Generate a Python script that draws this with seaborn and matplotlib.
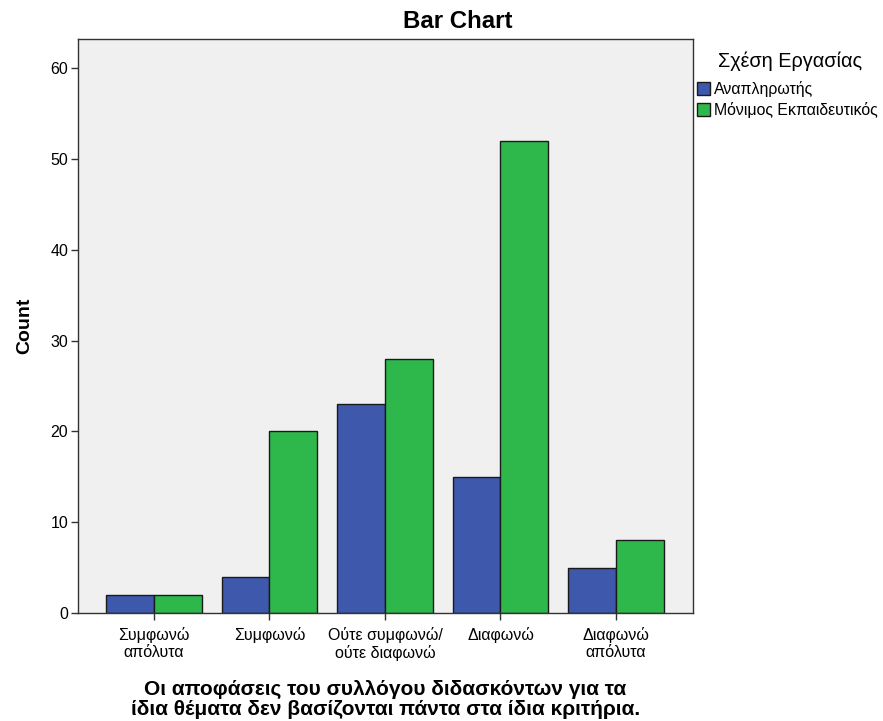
import pandas as pd
import matplotlib
matplotlib.use("Agg")
import matplotlib.pyplot as plt
import seaborn as sns

# Δεδομένα
categories = ["Συμφωνώ\nαπόλυτα", "Συμφωνώ", "Ούτε συμφωνώ/\nούτε διαφωνώ",
              "Διαφωνώ", "Διαφωνώ\nαπόλυτα"]
groups = ["Αναπληρωτής", "Μόνιμος Εκπαιδευτικός"]
counts_anapl = [2, 4, 23, 15, 5]
counts_monimos = [2, 20, 28, 52, 8]
colors = ["#3E58AC", "#2EB84B"]

df = pd.DataFrame({
    "cat": categories * 2,
    "group": [groups[0]] * 5 + [groups[1]] * 5,
    "count": counts_anapl + counts_monimos,
})

sns.set_style("white")
plt.rcParams["font.family"] = ["Liberation Sans", "DejaVu Sans"]
plt.rcParams["text.color"] = "black"
plt.rcParams["axes.labelcolor"] = "black"
plt.rcParams["xtick.color"] = "black"
plt.rcParams["ytick.color"] = "black"

W, H = 883, 721
fig = plt.figure(figsize=(W / 100, H / 100), dpi=100)
ax = fig.add_axes([78 / W, 1 - 613 / H, 615 / W, 574 / H])
ax.set_facecolor("#F0F0F0")

sns.barplot(data=df, x="cat", y="count", hue="group", order=categories,
            hue_order=groups, palette=colors, width=0.83, edgecolor="#1a1a1a",
            linewidth=1.0, saturation=1, ax=ax)

ax.set_xlim(-0.658, 4.667)
ax.set_ylim(0, 63.2)
ax.set_yticks(range(0, 61, 10))
ax.tick_params(axis="both", direction="out", length=5, width=1, color="#333333",
               labelsize=11.5, bottom=True, left=True, pad=2)
ax.tick_params(axis="x", pad=5)
for s in ax.spines.values():
    s.set_color("#333333")
    s.set_linewidth(1)

ax.set_title("Bar Chart", fontsize=17.3, fontweight="bold", pad=8, x=(458 - 78) / 615)
ax.set_ylabel("Count", fontsize=14, fontweight="bold", labelpad=12)
ax.set_xlabel("Οι αποφάσεις του συλλόγου διδασκόντων για τα\nίδια θέματα δεν βασίζονται πάντα στα ίδια κριτήρια.",
              fontsize=15, fontweight="bold", labelpad=13, linespacing=1.1)

# υπόμνημα: τίτλος ξεχωριστά
leg = ax.legend(loc="upper left", bbox_to_anchor=((697 - 78) / 615, (613 - 81) / 574),
                frameon=False, fontsize=11.4, handlelength=0.85, handleheight=0.85,
                handletextpad=0.25, borderaxespad=0.0, borderpad=0.0,
                labelspacing=0.32)
fig.text(790 / W, 1 - 61 / H, "Σχέση Εργασίας", fontsize=14.3, ha="center", va="center")

fig.savefig("out.png", dpi=100)
